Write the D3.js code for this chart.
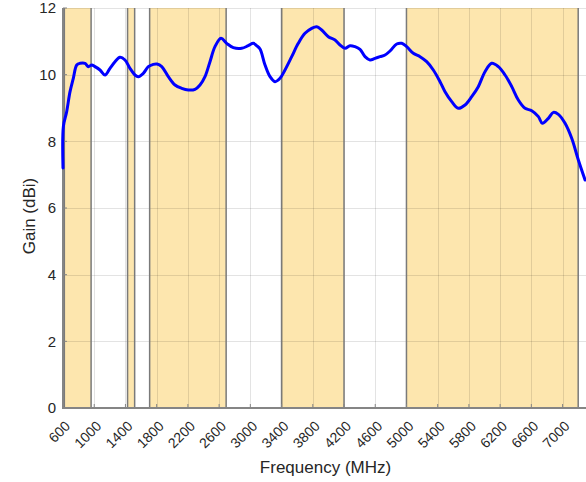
<!DOCTYPE html>
<html><head><meta charset="utf-8">
<script src="https://cdn.jsdelivr.net/npm/d3@7"></script>
<style>
body{margin:0;background:#fff}
svg{display:block}
text{font-family:"Liberation Sans",Arial,sans-serif;fill:#262626}
</style>
</head><body>
<svg id="c" width="586" height="482"></svg>
<script>
// ---- data ----
const freq = [600,605,647,690,732,776,818,882,924,968,1010,1074,1138,1202,1266,1330,1394,1458,1522,1565,1629,1693,1757,1804,1865,1949,2035,2121,2205,2291,2355,2419,2483,2547,2624,2697,2782,2889,2974,3038,3080,3124,3188,3252,3316,3380,3444,3530,3614,3700,3786,3850,3914,3999,4085,4149,4213,4277,4341,4405,4469,4533,4597,4661,4725,4789,4875,4939,5003,5088,5174,5259,5344,5430,5494,5580,5664,5750,5836,5920,6006,6092,6177,6263,6349,6433,6519,6605,6690,6741,6818,6882,6946,7032,7117,7202,7288];
const gain = [7.2,8.45,8.89,9.49,9.89,10.29,10.34,10.34,10.24,10.29,10.24,10.14,9.99,10.19,10.39,10.52,10.44,10.19,9.99,9.94,10.04,10.24,10.31,10.32,10.24,9.94,9.69,9.59,9.54,9.56,9.69,9.94,10.39,10.84,11.09,10.94,10.81,10.79,10.87,10.94,10.87,10.77,10.29,9.94,9.79,9.89,10.14,10.54,10.94,11.24,11.39,11.44,11.34,11.14,11.04,10.89,10.79,10.87,10.84,10.76,10.54,10.44,10.49,10.54,10.59,10.71,10.92,10.94,10.84,10.64,10.54,10.39,10.14,9.79,9.49,9.19,8.99,9.09,9.34,9.64,10.09,10.34,10.24,9.99,9.64,9.24,8.99,8.92,8.74,8.54,8.69,8.87,8.81,8.54,8.09,7.44,6.84];
const xTicks = [600,1000,1400,1800,2200,2600,3000,3400,3800,4200,4600,5000,5400,5800,6200,6600,7000];
const yTicks = [0,2,4,6,8,10,12];
const bandStart = [617,1427,1710,3400,5000];
const bandEnd   = [960,1518,2690,4200,7200];
const xLabel = "Frequency (MHz)";
const yLabel = "Gain (dBi)";

// ---- layout ----
const L=63, R=586, T=8, B=408;
const x = d3.scaleLinear().domain([600,7300]).range([L,R]);
const y = d3.scaleLinear().domain([0,12]).range([B,T]);
const svg = d3.select("#c");

// bands
const bands = bandStart.map((s,i)=>({s, e:bandEnd[i]}));
svg.append("g").selectAll("rect").data(bands).join("rect")
  .attr("x",d=>x(d.s)).attr("y",y(12))
  .attr("width",d=>x(d.e)-x(d.s)).attr("height",y(0)-y(12))
  .attr("fill","#fde6ae");

// grid
const grid = svg.append("g").attr("stroke","rgba(0,0,0,0.11)").attr("stroke-width",1);
grid.selectAll(".gx").data(xTicks).join("line")
  .attr("x1",d=>Math.round(x(d))+0.5).attr("x2",d=>Math.round(x(d))+0.5)
  .attr("y1",y(12)).attr("y2",y(0));
grid.selectAll(".gy").data(yTicks).join("line")
  .attr("x1",L).attr("x2",R)
  .attr("y1",d=>Math.round(y(d))+0.5).attr("y2",d=>Math.round(y(d))+0.5);

// band edges
const edges = bandStart.concat(bandEnd);
svg.append("g").selectAll("line").data(edges).join("line")
  .attr("x1",d=>x(d)).attr("x2",d=>x(d))
  .attr("y1",y(12)).attr("y2",y(0))
  .attr("stroke","#7a7a7a").attr("stroke-width",1.5);

// axes
const ax = svg.append("g").attr("stroke","#858585").attr("fill","none");
ax.append("line").attr("x1",L).attr("x2",L).attr("y1",T).attr("y2",B+0.75).attr("stroke-width",2);
ax.append("line").attr("x1",L-1).attr("x2",R).attr("y1",B).attr("y2",B).attr("stroke-width",2);
ax.selectAll(".tx").data(xTicks).join("line")
  .attr("x1",d=>x(d)).attr("x2",d=>x(d)).attr("y1",B).attr("y2",B-4).attr("stroke-width",1);
ax.selectAll(".ty").data(yTicks).join("line")
  .attr("x1",L).attr("x2",L+4).attr("y1",d=>y(d)).attr("y2",d=>y(d)).attr("stroke-width",1);

// curve
const pts = freq.map((f,i)=>[f,gain[i]]);
svg.append("path").datum(pts)
  .attr("d", d3.line().x(d=>x(d[0])).y(d=>y(d[1])).curve(d3.curveCatmullRom.alpha(0.5)))
  .attr("fill","none").attr("stroke","#0000ff").attr("stroke-width",3)
  .attr("stroke-linejoin","round").attr("stroke-linecap","round");

// tick labels
svg.append("g").selectAll("text").data(yTicks).join("text")
  .attr("x",L-7).attr("y",d=>y(d)).attr("dy","0.35em")
  .attr("text-anchor","end").attr("font-size",15).text(d=>d);
svg.append("g").selectAll("text").data(xTicks).join("text")
  .attr("transform",d=>`translate(${x(d)+8},${B+19}) rotate(-45)`)
  .attr("text-anchor","end").attr("font-size",14).text(d=>d);

// axis titles
svg.append("text").attr("x",(L+R)/2+1).attr("y",473).attr("text-anchor","middle")
  .attr("font-size",17).text(xLabel);
svg.append("text").attr("transform",`translate(35,${(T+B)/2+8}) rotate(-90)`)
  .attr("text-anchor","middle").attr("font-size",17).text(yLabel);
</script>
</body></html>
